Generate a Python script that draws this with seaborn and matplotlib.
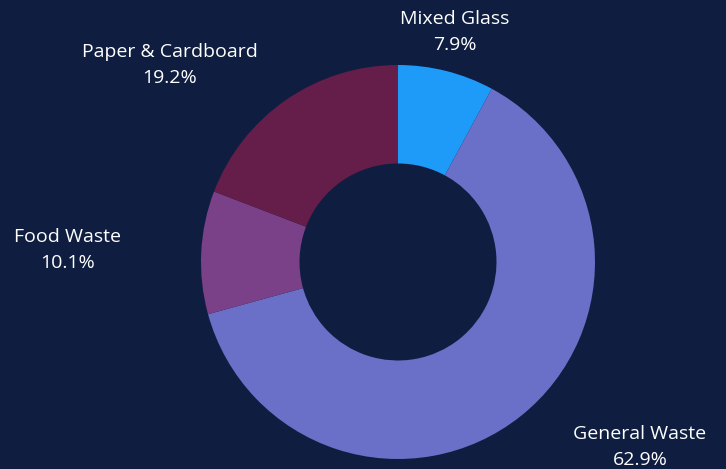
import matplotlib.pyplot as plt
import seaborn as sns

# waste composition
categories = ['Mixed Glass', 'General Waste', 'Food Waste', 'Paper & Cardboard']
shares = [7.9, 62.9, 10.1, 19.2]
colors = ['#1e9af8', '#6a70c8', '#7a4189', '#651d4a']

# label anchor points in pixels (centre of the two-line label)
label_px = [(455, 32), (640, 447), (68, 250), (170, 65)]

BG = '#0f1e40'
W, H = 726, 469

sns.set_theme(style='white')
plt.rcParams['font.family'] = ['Open Sans', 'DejaVu Sans']

fig = plt.figure(figsize=(W / 100, H / 100), dpi=100, facecolor=BG)
cx, cy, r = 398, 262, 197
ax = fig.add_axes([(cx - r) / W, (H - cy - r) / H, 2 * r / W, 2 * r / H])
ax.set_facecolor(BG)

ax.pie(shares, colors=colors, startangle=90, counterclock=False,
       radius=1, wedgeprops=dict(width=0.5, linewidth=0))
ax.set_xlim(-1, 1)
ax.set_ylim(-1, 1)
ax.set_aspect('equal')
ax.axis('off')

for name, val, (px, py) in zip(categories, shares, label_px):
    fig.text(px / W, 1 - py / H, f'{name}\n{val:.1f}%', color='white',
             fontsize=14, ha='center', va='center', linespacing=1.6)

fig.savefig('out.png', dpi=100, facecolor=BG)
